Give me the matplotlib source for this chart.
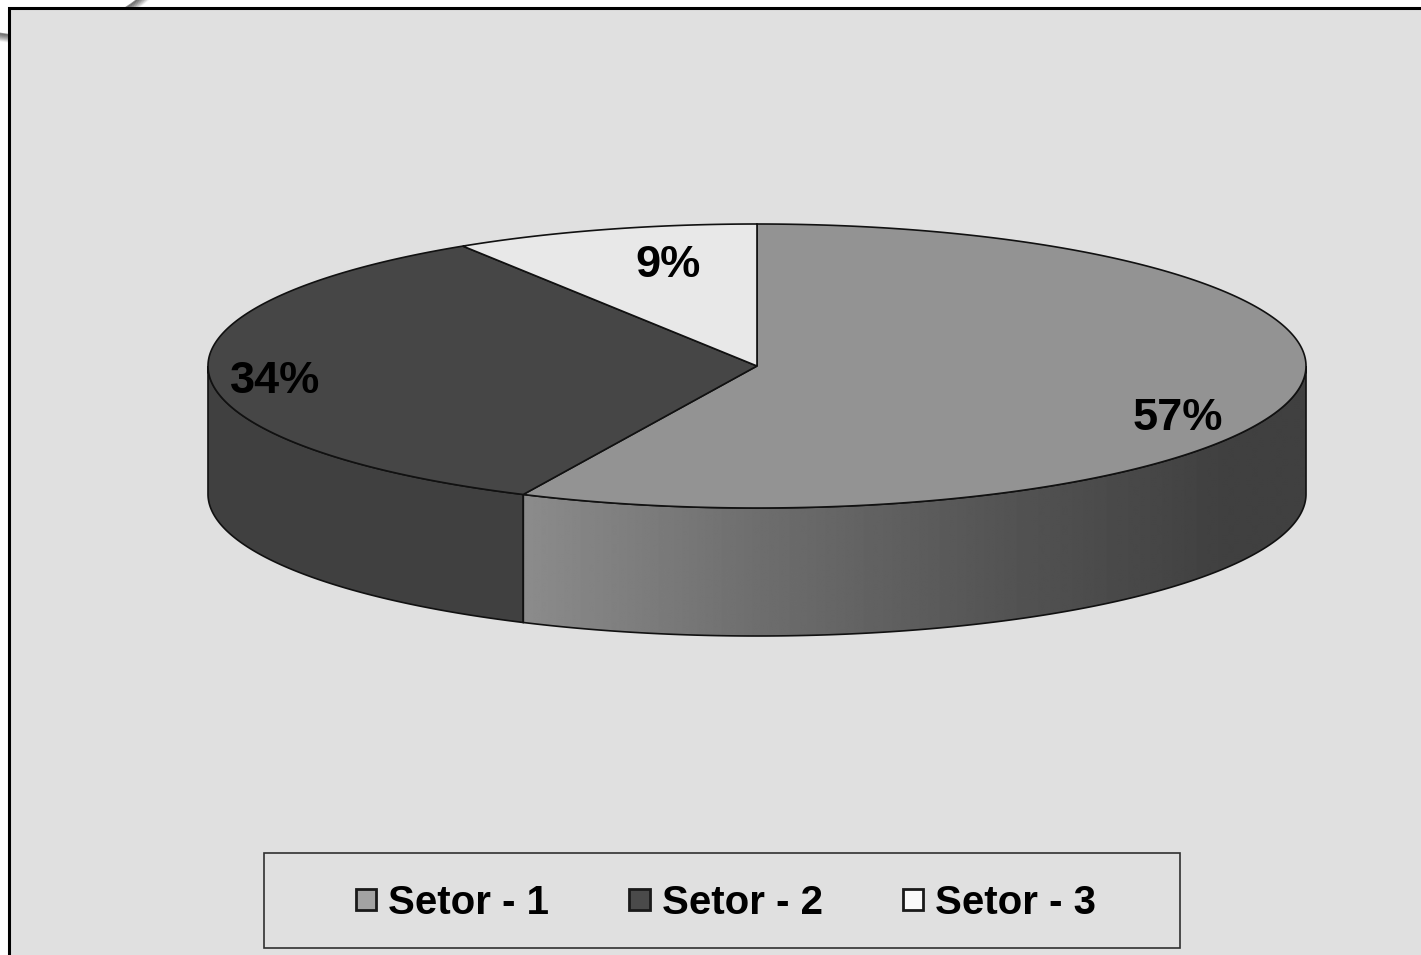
import numpy as np
import matplotlib.pyplot as plt
from matplotlib.patches import Polygon, Rectangle, Patch, Circle

sectors = ['Setor - 1', 'Setor - 2', 'Setor - 3']
shares = [57, 34, 9]

top_colors = ['#939393', '#464646', '#e8e8e8']
side_colors = [None, '#404040', '#e0e0e0']   # None -> shaded gradient
legend_colors = ['#a3a3a3', '#4a4a4a', '#fafafa']
label_pos = [(1178, 418), (275, 381), (668, 265)]

# pie geometry in pixel units
cx, cy, rx, ry, depth = 757, 366, 549, 142, 128

W, H = 1421, 955
fig = plt.figure(figsize=(W / 100, H / 100), dpi=100)
ax = fig.add_axes([0, 0, 1, 1])
ax.axis('off')

# curled page edge peeking out at the top-left
for k in range(8):
    ax.add_patch(Circle((30, -140), 176 + k, fill=False, edgecolor='#404040',
                        lw=1.2, alpha=0.6 * (1 - k / 8), zorder=0))

# chart panel
ax.add_patch(Rectangle((9, 8), W + 20, H + 20, facecolor='#e0e0e0',
                       edgecolor='black', lw=2.2, zorder=1))


def rim(t0, t1, dy=0, n=300):
    t = np.radians(np.linspace(t0, t1, n))
    return np.column_stack([cx + rx * np.cos(t), cy - ry * np.sin(t) + dy])


fracs = np.array(shares) / sum(shares)
bounds = 90 - 360 * np.concatenate([[0], np.cumsum(fracs)])

# front walls (visible half of the rim: -180..0 degrees)
for i in range(len(shares)):
    start, end = bounds[i], bounds[i + 1]
    lo, hi = max(end, -180), min(start, 0)
    if lo >= hi:
        continue
    pts = np.vstack([rim(lo, hi), rim(hi, lo, dy=depth)])
    if side_colors[i] is None:
        wall = Polygon(pts, closed=True, facecolor='none', edgecolor='none', zorder=2)
        ax.add_patch(wall)
        xs = np.linspace(pts[:, 0].min(), pts[:, 0].max(), 600)
        gray = np.interp(xs, [519, 760, 1000, 1230], [0.55, 0.43, 0.33, 0.25])
        img = ax.imshow(np.tile(gray, (2, 1)), cmap='gray', vmin=0, vmax=1,
                        extent=[xs[0], xs[-1], pts[:, 1].max(), pts[:, 1].min()],
                        aspect='auto', interpolation='bilinear', zorder=2)
        img.set_clip_path(wall)
    else:
        ax.add_patch(Polygon(pts, closed=True, facecolor=side_colors[i],
                             edgecolor='none', zorder=2))
    ax.add_patch(Polygon(pts, closed=True, fill=False, edgecolor='#111111',
                         lw=1.2, zorder=3))

# top face
for i in range(len(shares)):
    pts = np.vstack([[cx, cy], rim(bounds[i + 1], bounds[i])])
    ax.add_patch(Polygon(pts, closed=True, facecolor=top_colors[i],
                         edgecolor='#111111', lw=1.2, zorder=4))

for (x, y), v in zip(label_pos, shares):
    ax.text(x, y, f'{v}%', ha='center', va='center', fontsize=32.5,
            fontweight='bold', family='Liberation Sans', color='black', zorder=5)

# legend box
ax.add_patch(Rectangle((264, 853), 916, 95, fill=False, edgecolor='#303030',
                       lw=1.2, zorder=5))
handles = [Patch(facecolor=c, edgecolor='#1a1a1a', lw=2) for c in legend_colors]
ax.legend(handles, sectors, loc='center',
          bbox_to_anchor=(726 / W, 1 - 903 / H), bbox_transform=fig.transFigure,
          ncol=3, frameon=False,
          prop=dict(family='Liberation Sans', weight='bold', size=29),
          handlelength=0.5, handleheight=0.42, handletextpad=0.3,
          columnspacing=2.0)

ax.set_xlim(0, W)
ax.set_ylim(H, 0)
fig.savefig('out.png', dpi=100, facecolor='white')
